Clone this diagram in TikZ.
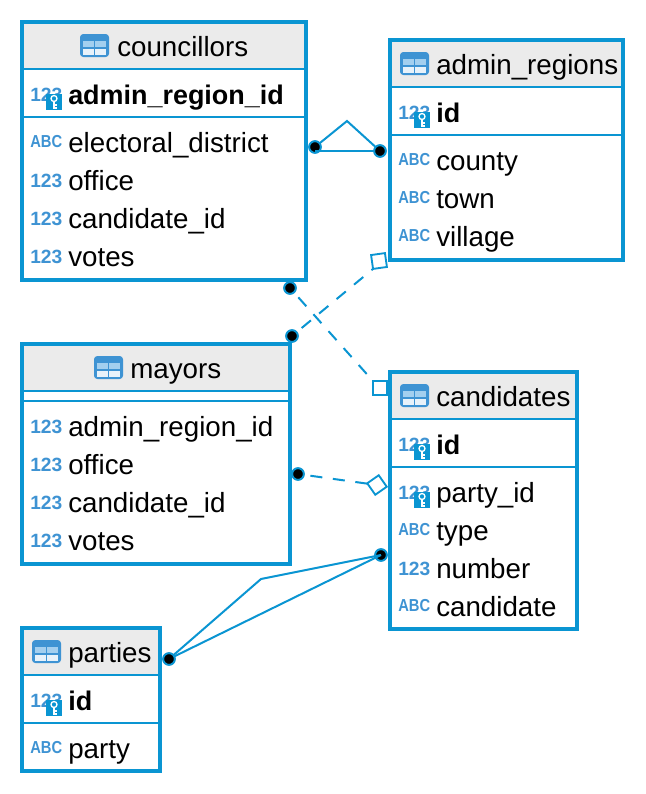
\documentclass[tikz,border=0pt]{standalone}
\usepackage{graphicx}
\usepackage{fontspec}
\setmainfont{Liberation Sans}
\definecolor{erblue}{HTML}{0A95D2}
\definecolor{iconblue}{HTML}{3E93D3}
\definecolor{iconlight}{HTML}{A3CFEF}
\definecolor{headfill}{HTML}{EBEBEB}
\tikzset{
  x=0.75pt,y=-0.75pt,
  tablebox/.style={draw=erblue,line width=2.7pt,inner sep=0pt,outer sep=0pt},
  sepline/.style={draw=erblue,line width=1.6pt},
  coltext/.style={anchor=base west,inner sep=0pt,font=\fontsize{20.8}{25}\selectfont},
  keytext/.style={anchor=base west,inner sep=0pt,font=\fontsize{20.2}{25}\selectfont\bfseries},
  numtext/.style={anchor=base west,inner sep=0pt,text=iconblue,font=\fontsize{14.4}{16}\selectfont\bfseries},
  abctext/.style={anchor=base west,inner sep=0pt,text=iconblue,font=\fontsize{13}{14}\selectfont\bfseries},
  enddot/.style={circle,draw=erblue,fill=black,line width=1.5pt,minimum size=8.8pt,inner sep=0pt,outer sep=0pt},
  endsquare/.style={rectangle,draw=erblue,fill=white,line width=1.4pt,minimum size=10.5pt,inner sep=0pt,outer sep=0pt},
  link/.style={draw=erblue,line width=1.5pt},
  dashlink/.style={draw=erblue,line width=1.5pt,dash pattern=on 9pt off 8pt,shorten <=5pt},
}
% name, x0, y0, x1, y1, header bottom, separator
\newcommand{\ertable}[7]{%
  \fill[headfill] (#2,#3) rectangle (#4,#6);
  \pgfmathsetmacro{\ercx}{(#2+#4)/2}
  \pgfmathsetmacro{\ercy}{(#3+#5)/2}
  \pgfmathsetmacro{\erw}{(#4-#2)*0.75}
  \pgfmathsetmacro{\erh}{(#5-#3)*0.75}
  \node[tablebox,minimum width=\erw pt,minimum height=\erh pt] (#1) at (\ercx,\ercy) {};
  \draw[sepline] (#2,#6) -- (#4,#6);
  \draw[sepline] (#2,#7) -- (#4,#7);
}
% icon left x, row centre y
\newcommand{\tableicon}[2]{%
  \begin{scope}[shift={(#1,#2)}]
    \fill[iconblue,rounded corners=2.5pt] (0,-12) rectangle (29,11);
    \fill[iconlight] (3,-5) rectangle (14,1);
    \fill[iconlight] (15,-5) rectangle (26,1);
    \fill[white!88!iconblue] (3,3) rectangle (14,8.5);
    \fill[white!88!iconblue] (15,3) rectangle (26,8.5);
  \end{scope}}
% icon x, row centre y
\newcommand{\numicon}[2]{\node[numtext] at (#1,#2+6) {123};}
\newcommand{\abcicon}[2]{\node[abctext] at (#1,#2+4) {\scalebox{0.85}[1]{ABC}};}
\newcommand{\keyicon}[2]{%
  \node[numtext] at (#1,#2+6) {123};
  \begin{scope}[shift={(#1,#2)}]
    \fill[erblue] (16,-1) rectangle (32,15);
    \draw[white,line width=1pt] (24,3.5) circle (3);
    \draw[white,line width=1.2pt] (24,6.5) -- (24,13.5);
    \draw[white,line width=1pt] (24,10) -- (27,10);
    \draw[white,line width=1pt] (24,13) -- (27,13);
  \end{scope}}
\begin{document}
\begin{tikzpicture}
\useasboundingbox (0,0) rectangle (646,794);
\fill[white] (0,0) rectangle (646,794);

% councillors
\ertable{councillors}{22}{22}{306}{280}{69}{117}
\tableicon{80}{46}
\node[coltext] (c0) at (117,56) {councillors};
\keyicon{30}{95}
\node[keytext] (c1) at (68,104) {admin\_region\_id};
\abcicon{30}{143}\node[coltext] (c2) at (68,152) {electoral\_district};
\numicon{30}{181}\node[coltext] (c3) at (68,190) {office};
\numicon{30}{219}\node[coltext] (c4) at (68,228) {candidate\_id};
\numicon{30}{257}\node[coltext] (c5) at (68,266) {votes};

% admin_regions
\ertable{admin}{390}{40}{623}{260}{87}{135}
\tableicon{400}{64}
\node[coltext] (a0) at (436,74) {admin\_regions};
\keyicon{398}{113}
\node[keytext] (a1) at (436,122) {id};
\abcicon{398}{161}\node[coltext] (a2) at (436,170) {county};
\abcicon{398}{199}\node[coltext] (a3) at (436,208) {town};
\abcicon{398}{237}\node[coltext] (a4) at (436,246) {village};

% mayors
\ertable{mayors}{22}{344}{290}{564}{391}{401}
\tableicon{94}{368}
\node[coltext] (m0) at (130,378) {mayors};
\numicon{30}{427}\node[coltext] (m1) at (68,436) {admin\_region\_id};
\numicon{30}{465}\node[coltext] (m2) at (68,474) {office};
\numicon{30}{503}\node[coltext] (m3) at (68,512) {candidate\_id};
\numicon{30}{541}\node[coltext] (m4) at (68,550) {votes};

% candidates
\ertable{candidates}{390}{372}{577}{629}{419}{467}
\tableicon{400}{396}
\node[coltext] (d0) at (436,406) {candidates};
\keyicon{398}{445}
\node[keytext] (d1) at (436,454) {id};
\keyicon{398}{493}
\node[coltext] (d2) at (436,502) {party\_id};
\abcicon{398}{531}\node[coltext] (d3) at (436,540) {type};
\numicon{398}{569}\node[coltext] (d4) at (436,578) {number};
\abcicon{398}{607}\node[coltext] (d5) at (436,616) {candidate};

% parties
\ertable{parties}{22}{628}{160}{771}{675}{723}
\tableicon{32}{652}
\node[coltext] (p0) at (68,662) {parties};
\keyicon{30}{701}
\node[keytext] (p1) at (68,710) {id};
\abcicon{30}{749}\node[coltext] (p2) at (68,758) {party};

% relation ends
\node[enddot] (e1a) at (315,147) {};
\node[enddot] (e1b) at (380,151) {};
\coordinate (e1k) at (347,121);
\coordinate (e1h) at (315,151);
\node[enddot] (e2a) at (290,288) {};
\node[endsquare] (e2b) at (380,388) {};
\node[enddot] (e3a) at (292,336) {};
\node[endsquare,rotate=8] (e3b) at (379,261) {};
\node[enddot] (e4a) at (298,474) {};
\node[endsquare,rotate=35] (e4b) at (377,485) {};
\node[enddot] (e5a) at (169,659) {};
\node[enddot] (e5b) at (381,555) {};
\coordinate (e5k) at (261,579);

% connectors
\draw[link] (e1a) -- (e1k) -- (e1b);
\draw[link] (e1h) -- (e1b);
\draw[dashlink] (e2a) -- (e2b.north west);
\draw[dashlink] (e3a) -- (e3b.south west);
\draw[dashlink] (e4a) -- (e4b);
\draw[link] (e5a) -- (e5k) -- (e5b.center);
\draw[link] (e5a) -- (e5b.center);
\end{tikzpicture}
\end{document}
